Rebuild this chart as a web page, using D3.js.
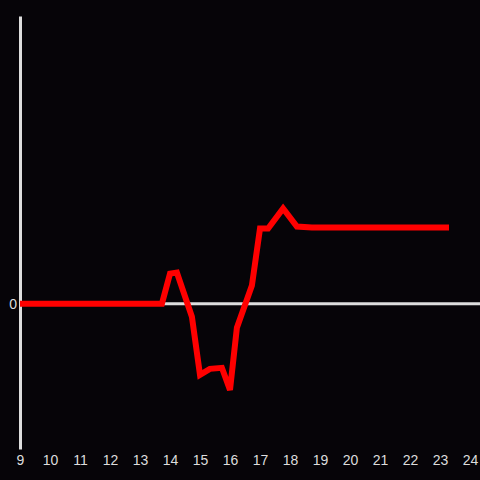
<!DOCTYPE html>
<html>
<head>
<meta charset="utf-8">
<script src="https://cdn.jsdelivr.net/npm/d3@7"></script>
<style>
	body { margin: 0; background: #060408; }
	svg { display: block; }
	.tick text { fill: #dddddd; font-family: 'Liberation Sans', Arial, sans-serif; font-size: 14px; }
</style>
</head>
<body>
<div id="chart"></div>
<script>
// hour of day and value
const hours = [9, 13.73, 14.0, 14.23, 14.73, 15.0, 15.33, 15.73, 16.0, 16.23, 16.73, 17.0, 17.27, 17.77, 18.23, 18.73, 23.3];
const values = [0, 0, 30, 31, -13, -71, -65, -64, -86, -24, 18, 75, 75, 95, 77, 76, 76];
const xTicks = [9, 10, 11, 12, 13, 14, 15, 16, 17, 18, 19, 20, 21, 22, 23, 24];
const yTicks = [0];

const width = 480;
const height = 480;

const svg = d3
	.select('#chart')
	.append('svg')
	.attr('width', width)
	.attr('height', height);

const x = d3.scaleLinear().domain([ 9, 24 ]).range([ 20, 470 ]);
const y = d3.scaleLinear().domain([ -145, 287 ]).range([ 449, 16 ]);

// zero line
svg
	.append('line')
	.attr('x1', x(9))
	.attr('x2', width)
	.attr('y1', y(0))
	.attr('y2', y(0))
	.attr('stroke', '#dddddd')
	.attr('stroke-width', 3);

// left axis
const yAxis = svg
	.append('g')
	.attr('transform', `translate(${x(9)},0)`)
	.call(d3.axisLeft(y).tickValues(yTicks).tickSize(0).tickPadding(3));
yAxis.select('.domain').attr('stroke', '#dddddd').attr('stroke-width', 3);

// bottom labels
const xAxis = svg
	.append('g')
	.attr('transform', `translate(0,${y.range()[0]})`)
	.call(d3.axisBottom(x).tickValues(xTicks).tickSize(0).tickPadding(6));
xAxis.select('.domain').remove();

const line = d3
	.line()
	.x((d, i) => x(hours[i]))
	.y((d) => y(d));

svg
	.append('path')
	.datum(values)
	.attr('fill', 'none')
	.attr('stroke', '#ff0000')
	.attr('stroke-width', 6)
	.attr('d', line);
</script>
</body>
</html>
